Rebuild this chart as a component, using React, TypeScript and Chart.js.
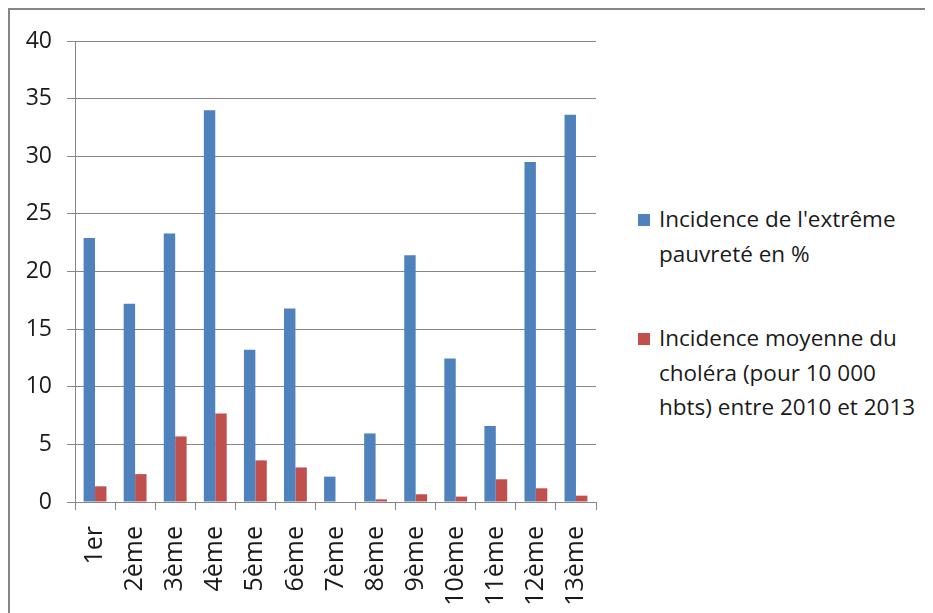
import React, { useEffect, useRef } from "react";
import { Chart, registerables } from "chart.js";

Chart.register(...registerables);

const categories = ["1er", "2ème", "3ème", "4ème", "5ème", "6ème", "7ème", "8ème", "9ème", "10ème", "11ème", "12ème", "13ème"];
const povertyValues = [22.9, 17.2, 23.3, 34.0, 13.2, 16.8, 2.2, 5.95, 21.4, 12.45, 6.6, 29.5, 33.6];
const choleraValues = [1.36, 2.42, 5.69, 7.68, 3.61, 3.0, 0, 0.23, 0.67, 0.47, 1.97, 1.19, 0.55];
const seriesLabels = ["Incidence de l'extrême pauvreté en %", "Incidence moyenne du choléra (pour 10 000 hbts) entre 2010 et 2013"];
const legendLines = [["Incidence de l'extrême", "pauvreté en %"], ["Incidence moyenne du", "choléra (pour 10 000", "hbts) entre 2010 et 2013"]];
const colors = ["#4F81BD", "#C0504D"];

const FONT = "'Open Sans', 'DejaVu Sans', sans-serif";

export default function App() {
  const ref = useRef<HTMLCanvasElement | null>(null);
  useEffect(() => {
    if (!ref.current) return;
    const chart = new Chart(ref.current, {
      type: "bar",
      data: {
        labels: categories,
        datasets: [
          { label: seriesLabels[0], data: povertyValues, backgroundColor: colors[0], borderWidth: 0, categoryPercentage: 0.57, barPercentage: 1 },
          { label: seriesLabels[1], data: choleraValues, backgroundColor: colors[1], borderWidth: 0, categoryPercentage: 0.57, barPercentage: 1 },
        ],
      },
      options: {
        animation: false,
        responsive: false,
        layout: { padding: { left: 0, right: 12, top: 33, bottom: 0 } },
        plugins: { legend: { display: false }, tooltip: { enabled: false } },
        scales: {
          x: {
            offset: true,
            grid: { display: true, drawOnChartArea: false, drawTicks: true, tickLength: 8, color: "#868686", offset: true },
            border: { display: true, color: "#868686" },
            ticks: { autoSkip: false, minRotation: 90, maxRotation: 90, padding: 16, color: "#1a1a1a", font: { family: FONT, size: 25 } },
            afterFit: (s: any) => { s.height = 111; s.paddingLeft = 0; s.paddingRight = 0; },
          },
          y: {
            min: 0,
            max: 40,
            ticks: { stepSize: 5, padding: 15, color: "#1a1a1a", font: { family: FONT, size: 23 } },
            grid: { color: "#868686", tickLength: 8, drawTicks: true },
            border: { display: true, color: "#868686" },
            afterFit: (s: any) => { s.width = 67; },
          },
        },
      },
    });
    return () => chart.destroy();
  }, []);

  const legendTops = [194, 313];
  return (
    <div style={{ position: "relative", width: 925, height: 605, background: "#fff" }}>
      <div style={{ position: "absolute", left: 0, top: 0, width: 925, height: 605, borderTop: "2px solid #858585", borderLeft: "2px solid #858585", boxSizing: "border-box" }} />
      <canvas ref={ref} width={600} height={605} style={{ position: "absolute", left: 0, top: 0, width: 600, height: 605 }} />
      {legendLines.map((lines, i) => (
        <div key={i} style={{ position: "absolute", left: 630, top: legendTops[i] }}>
          <div style={{ position: "absolute", left: 0, top: 12, width: 12, height: 12, background: colors[i] }} />
          <div style={{ marginLeft: 21, fontFamily: FONT, fontSize: 22.5, lineHeight: "34.5px", color: "#1a1a1a", whiteSpace: "nowrap" }}>
            {lines.map((l, j) => (<div key={j}>{l}</div>))}
          </div>
        </div>
      ))}
    </div>
  );
}
